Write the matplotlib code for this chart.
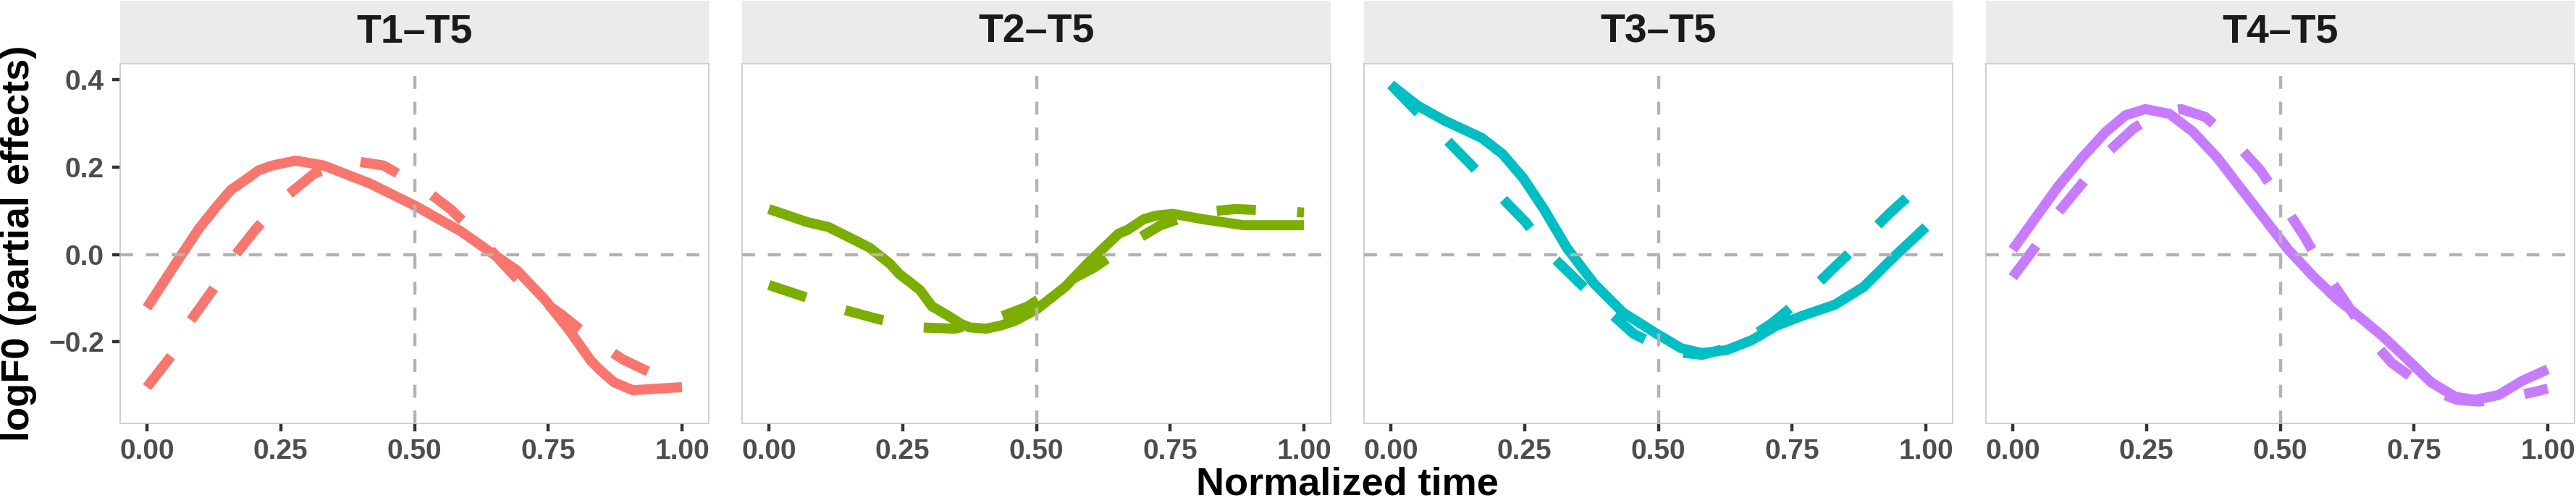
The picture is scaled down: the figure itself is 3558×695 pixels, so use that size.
import matplotlib
matplotlib.use("Agg")
import matplotlib.pyplot as plt
from matplotlib.patches import Rectangle

# Panel titles and colours (ggplot default hues)
panel_titles = ["T1–T5", "T2–T5", "T3–T5", "T4–T5"]
panel_colors = ["#F8766D", "#7CAE00", "#00BFC4", "#C77CFF"]

# Values (normalized time, logF0 partial effect)
t1_solid_x = [0.0, 0.053, 0.097, 0.131, 0.157, 0.183, 0.209, 0.235, 0.278, 0.33, 0.416,
              0.502, 0.588, 0.64, 0.692, 0.744, 0.787, 0.83, 0.847, 0.873, 0.908, 0.959, 1.0]
t1_solid_y = [-0.122, -0.022, 0.059, 0.111, 0.148, 0.17, 0.193, 0.204, 0.215, 0.204, 0.163,
              0.111, 0.052, 0.007, -0.037, -0.104, -0.17, -0.244, -0.265, -0.293, -0.311,
              -0.307, -0.304]
t1_dashed_x = [0.0, 0.045, 0.079, 0.123, 0.166, 0.204, 0.26, 0.312, 0.381, 0.442,
               0.511, 0.567, 0.623, 0.666, 0.718, 0.774, 0.834, 0.89, 0.959, 1.0]
t1_dashed_y = [-0.304, -0.233, -0.156, -0.081, 0.0, 0.059, 0.133, 0.185, 0.215, 0.204,
               0.156, 0.104, 0.037, -0.022, -0.089, -0.137, -0.196, -0.241, -0.281, -0.304]

t2_solid_x = [0.0, 0.072, 0.111, 0.165, 0.189, 0.227, 0.243, 0.282, 0.305, 0.336, 0.359,
              0.375, 0.406, 0.433, 0.46, 0.5, 0.554, 0.6, 0.654, 0.67, 0.701, 0.724, 0.755,
              0.81, 0.849, 0.887, 0.942, 1.0]
t2_solid_y = [0.104, 0.074, 0.063, 0.03, 0.015, -0.022, -0.044, -0.081, -0.119, -0.141,
              -0.159, -0.167, -0.17, -0.163, -0.152, -0.126, -0.074, -0.015, 0.048, 0.056,
              0.081, 0.089, 0.093, 0.081, 0.074, 0.067, 0.067, 0.067]
t2_dashed_x = [0.0, 0.064, 0.138, 0.204, 0.278, 0.348, 0.422, 0.484, 0.546, 0.608,
               0.67, 0.732, 0.802, 0.872, 0.95, 1.0]
t2_dashed_y = [-0.07, -0.096, -0.126, -0.148, -0.167, -0.17, -0.148, -0.119, -0.07, -0.03,
               0.022, 0.067, 0.096, 0.104, 0.1, 0.096]

t3_solid_x = [0.0, 0.05, 0.1, 0.17, 0.209, 0.248, 0.286, 0.329, 0.38, 0.434, 0.496,
              0.543, 0.582, 0.628, 0.675, 0.721, 0.768, 0.83, 0.884, 0.939, 1.0]
t3_solid_y = [0.389, 0.341, 0.307, 0.267, 0.23, 0.174, 0.104, 0.015, -0.067, -0.133, -0.181,
              -0.215, -0.226, -0.219, -0.196, -0.163, -0.141, -0.115, -0.074, -0.007, 0.063]
t3_dashed_x = [0.0, 0.05, 0.104, 0.151, 0.205, 0.252, 0.298, 0.345, 0.403, 0.453,
               0.519, 0.582, 0.651, 0.714, 0.776, 0.826, 0.88, 0.931, 1.0]
t3_dashed_y = [0.389, 0.326, 0.263, 0.204, 0.133, 0.074, 0.0, -0.056, -0.126, -0.181,
               -0.222, -0.23, -0.207, -0.156, -0.093, -0.033, 0.03, 0.093, 0.17]

t4_solid_x = [0.0, 0.041, 0.085, 0.13, 0.174, 0.211, 0.248, 0.293, 0.337, 0.382, 0.426,
              0.471, 0.515, 0.56, 0.604, 0.649, 0.693, 0.738, 0.782, 0.827, 0.864,
              0.908, 0.953, 1.0]
t4_solid_y = [0.011, 0.081, 0.156, 0.222, 0.281, 0.319, 0.333, 0.322, 0.281, 0.222, 0.152,
              0.081, 0.011, -0.048, -0.1, -0.144, -0.189, -0.241, -0.293, -0.326, -0.333,
              -0.322, -0.289, -0.263]
t4_dashed_x = [0.0, 0.041, 0.085, 0.13, 0.174, 0.226, 0.278, 0.315, 0.36, 0.419, 0.463,
               0.508, 0.545, 0.582, 0.623, 0.663, 0.708, 0.771, 0.83, 0.871, 0.915,
               0.975, 1.0]
t4_dashed_y = [-0.052, 0.015, 0.096, 0.163, 0.23, 0.289, 0.326, 0.333, 0.315, 0.252, 0.193,
               0.111, 0.041, -0.037, -0.111, -0.185, -0.248, -0.304, -0.333, -0.337, -0.33,
               -0.315, -0.307]

x_ticks = [0.0, 0.25, 0.5, 0.75, 1.0]
x_tick_labels = ["0.00", "0.25", "0.50", "0.75", "1.00"]
y_ticks = [-0.2, 0.0, 0.2, 0.4]
y_tick_labels = ["\u22120.2", "0.0", "0.2", "0.4"]

solid_series = [(t1_solid_x, t1_solid_y), (t2_solid_x, t2_solid_y),
                (t3_solid_x, t3_solid_y), (t4_solid_x, t4_solid_y)]
dashed_series = [(t1_dashed_x, t1_dashed_y), (t2_dashed_x, t2_dashed_y),
                 (t3_dashed_x, t3_dashed_y), (t4_dashed_x, t4_dashed_y)]

plt.rcParams["font.family"] = ["Liberation Sans", "DejaVu Sans"]
plt.rcParams["font.weight"] = "bold"

W, H = 3558, 695
fig = plt.figure(figsize=(W / 100, H / 100), dpi=100)

panel_lefts = [166, 1025, 1884, 2743]
panel_w = 813
panel_top, panel_bottom = 88, 585
strip_h = panel_top - 1
panel_h = panel_bottom - panel_top

for i, left in enumerate(panel_lefts):
    ax = fig.add_axes([left / W, 1 - panel_bottom / H, panel_w / W, panel_h / H])
    color = panel_colors[i]
    sx, sy = solid_series[i]
    dx, dy = dashed_series[i]
    ax.plot(sx, sy, color=color, linewidth=10, solid_capstyle="butt",
            solid_joinstyle="round", zorder=2)
    ax.plot(dx, dy, color=color, linewidth=10, linestyle=(0, (3.9, 4.1)),
            dash_capstyle="butt", dash_joinstyle="round", zorder=2)

    # reference lines on top
    ax.axhline(0, color="#B3B3B3", linewidth=3.2, linestyle=(0, (4, 4)),
               dash_capstyle="butt", zorder=3)
    ax.axvline(0.5, color="#B3B3B3", linewidth=3.2, linestyle=(0, (4, 4)),
               dash_capstyle="butt", zorder=3)

    ax.set_xlim(-0.05, 1.05)
    ax.set_ylim(-0.387, 0.437)
    ax.set_xticks(x_ticks)
    ax.set_xticklabels(x_tick_labels)
    ax.tick_params(axis="x", length=8, width=3.2, color="#333333", pad=7,
                   labelsize=28, labelcolor="#4D4D4D")
    if i == 0:
        ax.set_yticks(y_ticks)
        ax.set_yticklabels(y_tick_labels)
        ax.tick_params(axis="y", length=8, width=3.2, color="#333333", pad=8,
                       labelsize=28, labelcolor="#4D4D4D")
    else:
        ax.set_yticks([])

    for spine in ax.spines.values():
        spine.set_color("#CCCCCC")
        spine.set_linewidth(1.3)

    # facet strip
    ax.add_patch(Rectangle((0, 1), 1, strip_h / panel_h, transform=ax.transAxes,
                           facecolor="#EBEBEB", edgecolor="none", clip_on=False))
    ax.text(0.5, 1 + strip_h / panel_h / 2, panel_titles[i], transform=ax.transAxes,
            ha="center", va="center", fontsize=40, fontweight="bold", color="#1A1A1A")

fig.text(26 / W, 1 - (panel_top + panel_bottom) / 2 / H, "logF0 (partial effects)",
         rotation=90, ha="center", va="center", fontsize=39, fontweight="bold")
fig.text((panel_lefts[0] + panel_lefts[-1] + panel_w) / 2 / W, 1 / H, "Normalized time",
         ha="center", va="bottom", fontsize=39, fontweight="bold")

fig.savefig("out.png", dpi=100)
